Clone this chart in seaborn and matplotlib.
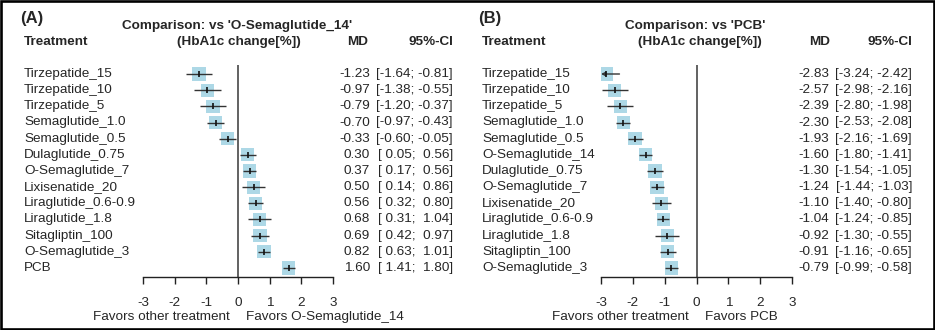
import matplotlib
matplotlib.use("Agg")
import matplotlib.pyplot as plt
import matplotlib.transforms as mtransforms
from matplotlib.patches import Rectangle
import seaborn as sns
import numpy as np
import pandas as pd

# ---------------- data ----------------
treat_a = ["Tirzepatide_15", "Tirzepatide_10", "Tirzepatide_5", "Semaglutide_1.0",
           "Semaglutide_0.5", "Dulaglutide_0.75", "O-Semaglutide_7", "Lixisenatide_20",
           "Liraglutide_0.6-0.9", "Liraglutide_1.8", "Sitagliptin_100", "O-Semaglutide_3", "PCB"]
md_a = [-1.23, -0.97, -0.79, -0.70, -0.33, 0.30, 0.37, 0.50, 0.56, 0.68, 0.69, 0.82, 1.60]
lo_a = [-1.64, -1.38, -1.20, -0.97, -0.60, 0.05, 0.17, 0.14, 0.32, 0.31, 0.42, 0.63, 1.41]
hi_a = [-0.81, -0.55, -0.37, -0.43, -0.05, 0.56, 0.56, 0.86, 0.80, 1.04, 0.97, 1.01, 1.80]

treat_b = ["Tirzepatide_15", "Tirzepatide_10", "Tirzepatide_5", "Semaglutide_1.0",
           "Semaglutide_0.5", "O-Semaglutide_14", "Dulaglutide_0.75", "O-Semaglutide_7",
           "Lixisenatide_20", "Liraglutide_0.6-0.9", "Liraglutide_1.8", "Sitagliptin_100",
           "O-Semaglutide_3"]
md_b = [-2.83, -2.57, -2.39, -2.30, -1.93, -1.60, -1.30, -1.24, -1.10, -1.04, -0.92, -0.91, -0.79]
lo_b = [-3.24, -2.98, -2.80, -2.53, -2.16, -1.80, -1.54, -1.44, -1.40, -1.24, -1.30, -1.16, -0.99]
hi_b = [-2.42, -2.16, -1.98, -2.08, -1.69, -1.41, -1.05, -1.03, -0.80, -0.85, -0.55, -0.65, -0.58]

xticks = [-3, -2, -1, 0, 1, 2, 3]

# ---------------- style ----------------
sns.set_style("white")
plt.rcParams['font.family'] = ['Liberation Sans', 'DejaVu Sans']

W, H = 935, 330
fig = plt.figure(figsize=(W / 100, H / 100), dpi=100)
FS = 9.7


def fx(px):
    return px / W


def fy(py):
    return 1 - py / H


def draw_panel(ox, letter, title, ref, treats, md, lo, hi, ax_l, ax_r, zero_px,
               lab_x, md_x, ci_x, title_x, sub_x, mdh_x):
    n = len(treats)
    row_top, row_bot = 74, 268
    axis_y, top_y = 277, 65
    step = (row_bot - row_top) / (n - 1)
    ax = fig.add_axes([fx(ox + ax_l), fy(axis_y), fx(ax_r - ax_l), (axis_y - top_y) / H])
    ax.set_xlim(-3, 3)
    ax.set_ylim((axis_y - row_top) / step, (top_y - row_top) / step)
    ax.set_facecolor("none")

    df = pd.DataFrame({"treat": treats, "md": md, "lo": lo, "hi": hi, "row": np.arange(n)})
    sns.scatterplot(data=df, x="md", y="row", marker="s", s=92, color="#add8e6",
                    edgecolor="none", linewidth=0, ax=ax, zorder=2, legend=False)
    lo_c = np.clip(df["lo"], -3, 3)
    hi_c = np.clip(df["hi"], -3, 3)
    for r, l, h, l0 in zip(df["row"], lo_c, hi_c, df["lo"]):
        if l0 < -3:
            ax.annotate("", xy=(-3, r), xytext=(h, r),
                        arrowprops=dict(arrowstyle="->", lw=1.0, color="#333333",
                                        shrinkA=0, shrinkB=0, mutation_scale=6),
                        zorder=3)
        else:
            ax.plot([l, h], [r, r], color="#333333", lw=1.0, zorder=3, solid_capstyle="butt")
    ax.scatter(df["md"], df["row"], marker="|", s=14, color="#111111", linewidths=1.2, zorder=4)
    ax.axvline(0, color="#555555", lw=1.3, zorder=1)

    for s in ["top", "right", "left"]:
        ax.spines[s].set_visible(False)
    ax.spines["bottom"].set_bounds(-3, 3)
    ax.spines["bottom"].set_color("#222222")
    ax.spines["bottom"].set_linewidth(1.0)
    ax.set_xticks(xticks)
    ax.set_xticklabels([str(t) for t in xticks], fontsize=FS)
    ax.tick_params(axis="x", direction="out", length=5, width=1.0, color="#222222", pad=9.5,
                   bottom=True)
    ax.set_yticks([])
    ax.set_xlabel("")
    ax.set_ylabel("")

    tr = mtransforms.blended_transform_factory(fig.transFigure, ax.transData)
    for r, t, m, l, h in zip(df["row"], treats, md, lo, hi):
        fig.text(fx(ox + lab_x), r, t, transform=tr, ha="left", va="center", fontsize=FS)
        fig.text(fx(ox + md_x), r, f"{m:.2f}", transform=tr, ha="right", va="center", fontsize=FS)
        fig.text(fx(ox + ci_x), r, f"[{l:5.2f}; {h:5.2f}]", transform=tr, ha="right",
                 va="center", fontsize=FS)

    fig.text(fx(ox + lab_x - 4), fy(19), letter, ha="left", va="center",
             fontsize=12, fontweight="bold")
    fig.text(fx(ox + title_x), fy(26), title, ha="center", va="center", fontsize=FS,
             fontweight="bold")
    fig.text(fx(ox + lab_x), fy(42), "Treatment", ha="left", va="center", fontsize=FS,
             fontweight="bold")
    fig.text(fx(ox + sub_x), fy(42), "(HbA1c change[%])", ha="center", va="center",
             fontsize=FS, fontweight="bold")
    fig.text(fx(ox + mdh_x), fy(42), "MD", ha="right", va="center", fontsize=FS,
             fontweight="bold")
    fig.text(fx(ox + ci_x), fy(42), "95%-CI", ha="right", va="center", fontsize=FS,
             fontweight="bold")
    fig.text(fx(ox + zero_px - 8), fy(317), "Favors other treatment", ha="right",
             va="center", fontsize=FS)
    fig.text(fx(ox + zero_px + 8), fy(317), f"Favors {ref}", ha="left", va="center",
             fontsize=FS)


draw_panel(0, "(A)", "Comparison: vs 'O-Semaglutide_14'", "O-Semaglutide_14",
           treat_a, md_a, lo_a, hi_a, 143, 333, 238,
           24, 370, 453, 237, 239, 368)
draw_panel(458, "(B)", "Comparison: vs 'PCB'", "PCB",
           treat_b, md_b, lo_b, hi_b, 601 - 458, 792 - 458, 697 - 458,
           482 - 458, 829 - 458, 912 - 458, 695 - 458, 700 - 458, 830 - 458)

# outer frame
fig.patches.append(Rectangle((fx(1.2), fy(H - 1.2)), fx(W - 2.4), (H - 2.4) / H,
                             transform=fig.transFigure, fill=False, edgecolor="black",
                             linewidth=1.9, zorder=10))

fig.savefig("out.png", dpi=100)
